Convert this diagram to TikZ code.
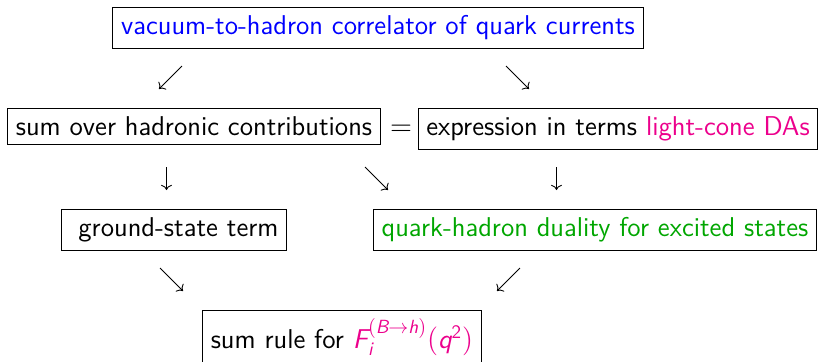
\documentclass[tikz,border=0pt]{standalone}
\usepackage{amsmath}
\usetikzlibrary{arrows.meta}
\definecolor{cblue}{RGB}{0,0,255}
\definecolor{cmag}{RGB}{236,0,140}
\definecolor{cgreen}{RGB}{0,166,0}
\newcommand\sfit[1]{\text{\sffamily\itshape #1}}
\begin{document}
\begin{tikzpicture}[x=0.5pt,y=-0.5pt,
  txt/.style={font=\fontsize{13.6pt}{16.3pt}\selectfont\sffamily, inner sep=0pt},
  box/.style={txt, draw, line width=0.45pt, inner sep=4.1pt, anchor=north},
  conn/.style={line width=0.45pt, -{Computer Modern Rightarrow}}]
\useasboundingbox (0,0) rectangle (820,361);
\node[box] (top) at (378,7) {\color{cblue}vacuum-to-hadron correlator of quark currents\ };
\node[box] (sum) at (194,108) {sum over hadronic contributions};
\node[box] (expr) at (618,108) {expression in terms \textcolor{cmag}{light-cone DAs}};
\coordinate (eqx) at (401,0);
\node[txt, anchor=base] (eq) at (eqx |- sum.base) {$=$};
\node[box] (ground) at (174,209) {\ ground-state term};
\node[box] (quark) at (595,209) {\color{cgreen}quark-hadron duality for excited states};
\node[box] (rule) at (342,310) {sum rule for \textcolor{cmag}{$\sfit{F}_{\sfit{i}}^{(\sfit{B}\to\sfit{h})}(\sfit{q}^{\text{2}})$}};
\coordinate (a1s) at (182,66); \coordinate (a1e) at (159,89);
\coordinate (a2s) at (506,66); \coordinate (a2e) at (529,89);
\coordinate (a3s) at (166.5,167); \coordinate (a3e) at (166.5,190);
\coordinate (a4s) at (365,167); \coordinate (a4e) at (388,190);
\coordinate (a5s) at (556.5,167); \coordinate (a5e) at (556.5,190);
\coordinate (a6s) at (160,268); \coordinate (a6e) at (183,291);
\coordinate (a7s) at (520,268); \coordinate (a7e) at (497,291);
\draw[conn] (a1s) -- (a1e);
\draw[conn] (a2s) -- (a2e);
\draw[conn] (a3s) -- (a3e);
\draw[conn] (a4s) -- (a4e);
\draw[conn] (a5s) -- (a5e);
\draw[conn] (a6s) -- (a6e);
\draw[conn] (a7s) -- (a7e);
\end{tikzpicture}
\end{document}
